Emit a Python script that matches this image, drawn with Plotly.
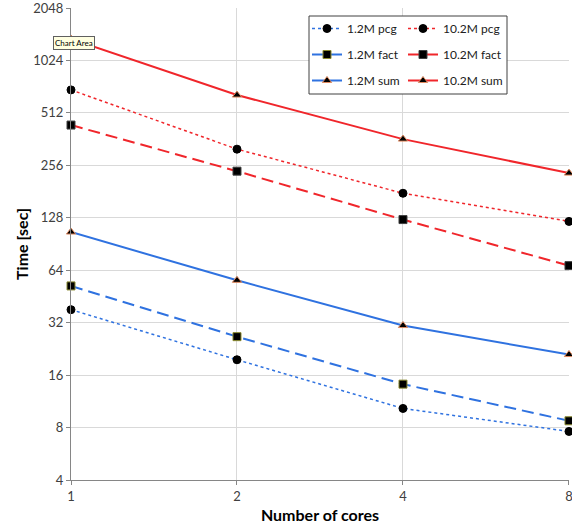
import plotly.graph_objects as go

cores = [1, 2, 4, 8]
pcg_1_2M = [38, 19.6, 10.3, 7.6]
pcg_10_2M = [694, 317, 177, 122]
fact_1_2M = [52, 26.6, 14.2, 8.75]
fact_10_2M = [436, 237, 125, 68]
sum_1_2M = [106, 56, 30.8, 21]
sum_10_2M = [1360, 648, 362, 231]
y_ticks = [4, 8, 16, 32, 64, 128, 256, 512, 1024, 2048]

BLUE = "#2f72e0"
RED = "#f0262b"
FONT = "Lato"

series = [
    ("1.2M pcg", pcg_1_2M, BLUE, "dot", "circle", "black", "legend"),
    ("1.2M fact", fact_1_2M, BLUE, "dash", "square", "#8a8a30", "legend"),
    ("1.2M sum", sum_1_2M, BLUE, "solid", "triangle-up", "#e08a60", "legend"),
    ("10.2M pcg", pcg_10_2M, RED, "dot", "circle", "black", "legend2"),
    ("10.2M fact", fact_10_2M, RED, "dash", "square", "#404040", "legend2"),
    ("10.2M sum", sum_10_2M, RED, "solid", "triangle-up", "#e08a60", "legend2"),
]

fig = go.Figure()
for name, vals, col, dash, sym, mline, leg in series:
    fig.add_trace(go.Scatter(
        x=cores, y=vals, name=name, mode="lines+markers",
        line=dict(color=col, width=2 if dash != "dot" else 1.5,
                  dash=dash if dash != "dash" else "12px,6px"),
        marker=dict(symbol=sym, color="black", size=8, line=dict(color=mline, width=1)),
        legend=leg, legendgroup=name, cliponaxis=False,
    ))

PL, PR, PT, PB = 71, 569, 8, 480
PW, PH = PR - PL, PB - PT

def px(x):
    return (x - PL) / PW

def py(y):
    return (PB - y) / PH

leg_common = dict(yanchor="top", xanchor="left", bgcolor="rgba(0,0,0,0)",
                  font=dict(size=12, color="#202020", family=FONT),
                  tracegroupgap=7, itemwidth=30)

fig.update_layout(
    width=572, height=529,
    margin=dict(l=PL, r=572 - PR, t=PT, b=529 - PB),
    paper_bgcolor="white", plot_bgcolor="white",
    font=dict(family=FONT, size=13, color="#404040"),
    showlegend=True,
    legend=dict(x=px(307), y=py(14), **leg_common),
    legend2=dict(x=px(403), y=py(14), **leg_common),
    shapes=[dict(type="rect", xref="paper", yref="paper",
                 x0=px(309), x1=px(507), y0=py(94), y1=py(16),
                 fillcolor="white", line=dict(color="#404040", width=1),
                 layer="above")],
    annotations=[dict(text="Chart Area", xref="paper", yref="paper",
                      x=px(53), y=py(43),
                      xanchor="left", yanchor="middle", showarrow=False,
                      font=dict(size=8, color="black", family=FONT),
                      bgcolor="#ffffe1", bordercolor="#606060",
                      borderwidth=1, borderpad=1)],
)

fig.update_xaxes(
    type="log", range=[0, 0.90312], tickvals=cores, ticktext=[str(c) for c in cores],
    showgrid=True, gridcolor="#d9d9d9", gridwidth=1,
    showline=True, linecolor="#868686", linewidth=1,
    ticks="outside", ticklen=4, tickcolor="#868686",
    zeroline=False, automargin=False, ticklabeloverflow="allow",
    title=dict(text="<b>Number of cores</b>", font=dict(size=16, color="black", family=FONT), standoff=7),
)
fig.update_yaxes(
    type="log", range=[0.60206, 3.31133], tickvals=y_ticks, ticktext=[str(t) for t in y_ticks],
    showgrid=True, gridcolor="#d9d9d9", gridwidth=1,
    showline=True, linecolor="#868686", linewidth=1,
    ticks="outside", ticklen=4, tickcolor="#868686",
    zeroline=False, automargin=False, ticklabeloverflow="allow",
    title=dict(text="<b>Time [sec]</b>", font=dict(size=16, color="black", family=FONT), standoff=0),
)

fig.write_html("out.html", config={"displayModeBar": False},
               post_script="document.body.style.margin='0';")
